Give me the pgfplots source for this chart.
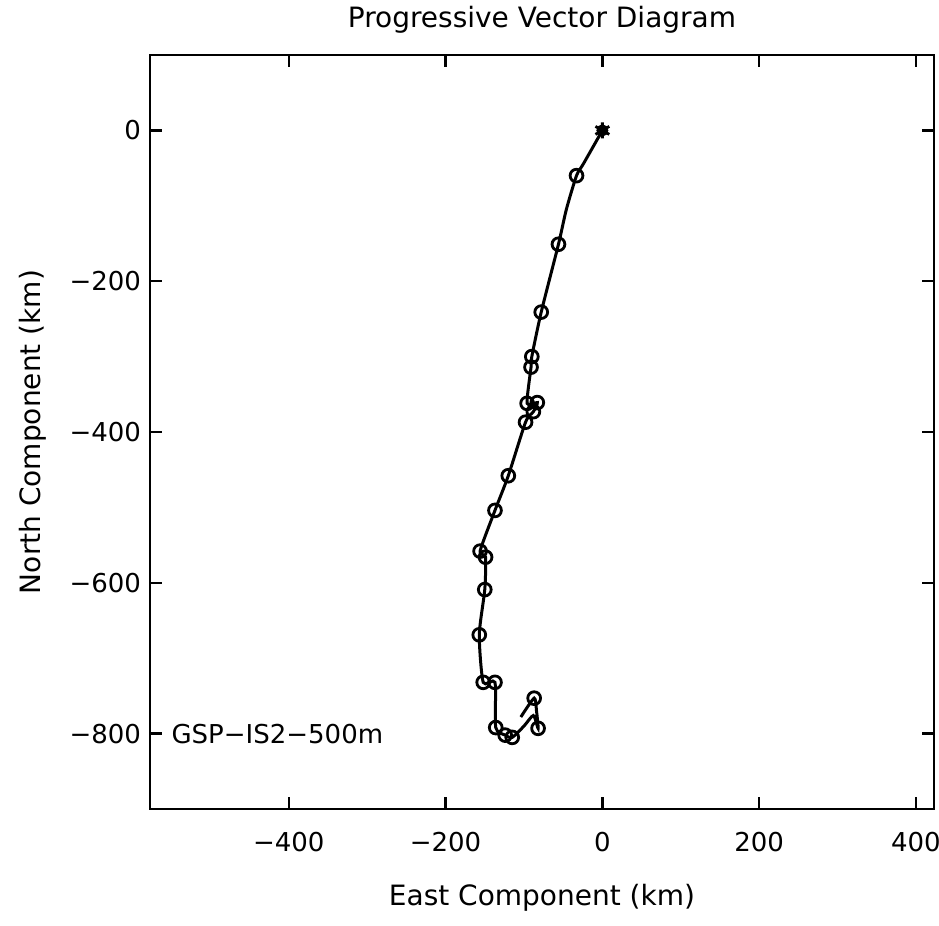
\documentclass[border=0pt]{standalone}
\usepackage{fontspec}
\setmainfont{DejaVu Sans}
\usepackage{pgfplots}
\pgfplotsset{compat=1.18}
\pgfplotstableread{
x y
0 0
-24 -44
-33 -60
-46 -105
-56 -151
-78 -241
-90 -300
-91 -314
-96 -362
-83 -361
-88 -373
-98 -387
-120 -458
-137 -504
-156 -558
-149 -566
-150 -609
-157 -669
-152 -732
-137 -732
-136 -792
-124 -802
-115 -805
-100 -790
-88 -776
-82 -793
-84 -770
-87 -753
-104 -778
}\pathdata
\pgfplotstableread{
x y
-33 -60
-56 -151
-78 -241
-90 -300
-91 -314
-96 -362
-83 -361
-88 -373
-98 -387
-120 -458
-137 -504
-156 -558
-149 -566
-150 -609
-157 -669
-152 -732
-137 -732
-136 -792
-124 -802
-115 -805
-82 -793
-87 -753
}\circdata
\begin{document}
\fontsize{13}{15}\selectfont
\begin{tikzpicture}
\begin{axis}[
 width=392pt, height=377pt, scale only axis,
 xmin=-577, xmax=423, ymin=-900, ymax=100,
 axis line style={line width=1.4pt},
 xtick={-400,-200,0,200,400},
 xticklabels={−400,−200,0,200,400},
 ytick={-800,-600,-400,-200,0},
 yticklabels={−800,−600,−400,−200,0},
 tick align=inside,
 major tick length=6pt,
 every tick/.style={line width=1.2pt, black},
 xticklabel style={yshift=-7pt},
 title={Progressive Vector Diagram},
 title style={at={(axis description cs:0.5,1)}, anchor=base, yshift=7.5pt, font=\fontsize{14}{16}\selectfont},
 xlabel={East Component (km)},
 xlabel style={at={(axis description cs:0.5,0)}, anchor=base, yshift=-48pt, font=\fontsize{14}{16}\selectfont},
 ylabel={North Component (km)},
 ylabel style={at={(axis description cs:-0.14,0.5)}, anchor=base, font=\fontsize{14}{16}\selectfont},
 clip=false,
]
\addplot[black, line width=1.5pt, smooth, tension=0.4, no marks] table {\pathdata};
\addplot[black, only marks, mark=o, mark size=3.2pt, line width=1.4pt] table {\circdata};
\addplot[black, only marks, mark=*, mark size=2.8pt] coordinates {(0,0)};
\addplot[black, only marks, mark=asterisk, mark size=4pt, line width=1.4pt] coordinates {(0,0)};
\node[anchor=west, inner sep=0pt] at (axis cs:-550,-800) {GSP−IS2−500m};
\end{axis}
\pgfresetboundingbox
\useasboundingbox ([xshift=-75pt,yshift=-58pt]current axis.south west) rectangle ([xshift=2.5pt,yshift=27.5pt]current axis.north east);
\end{tikzpicture}
\end{document}
